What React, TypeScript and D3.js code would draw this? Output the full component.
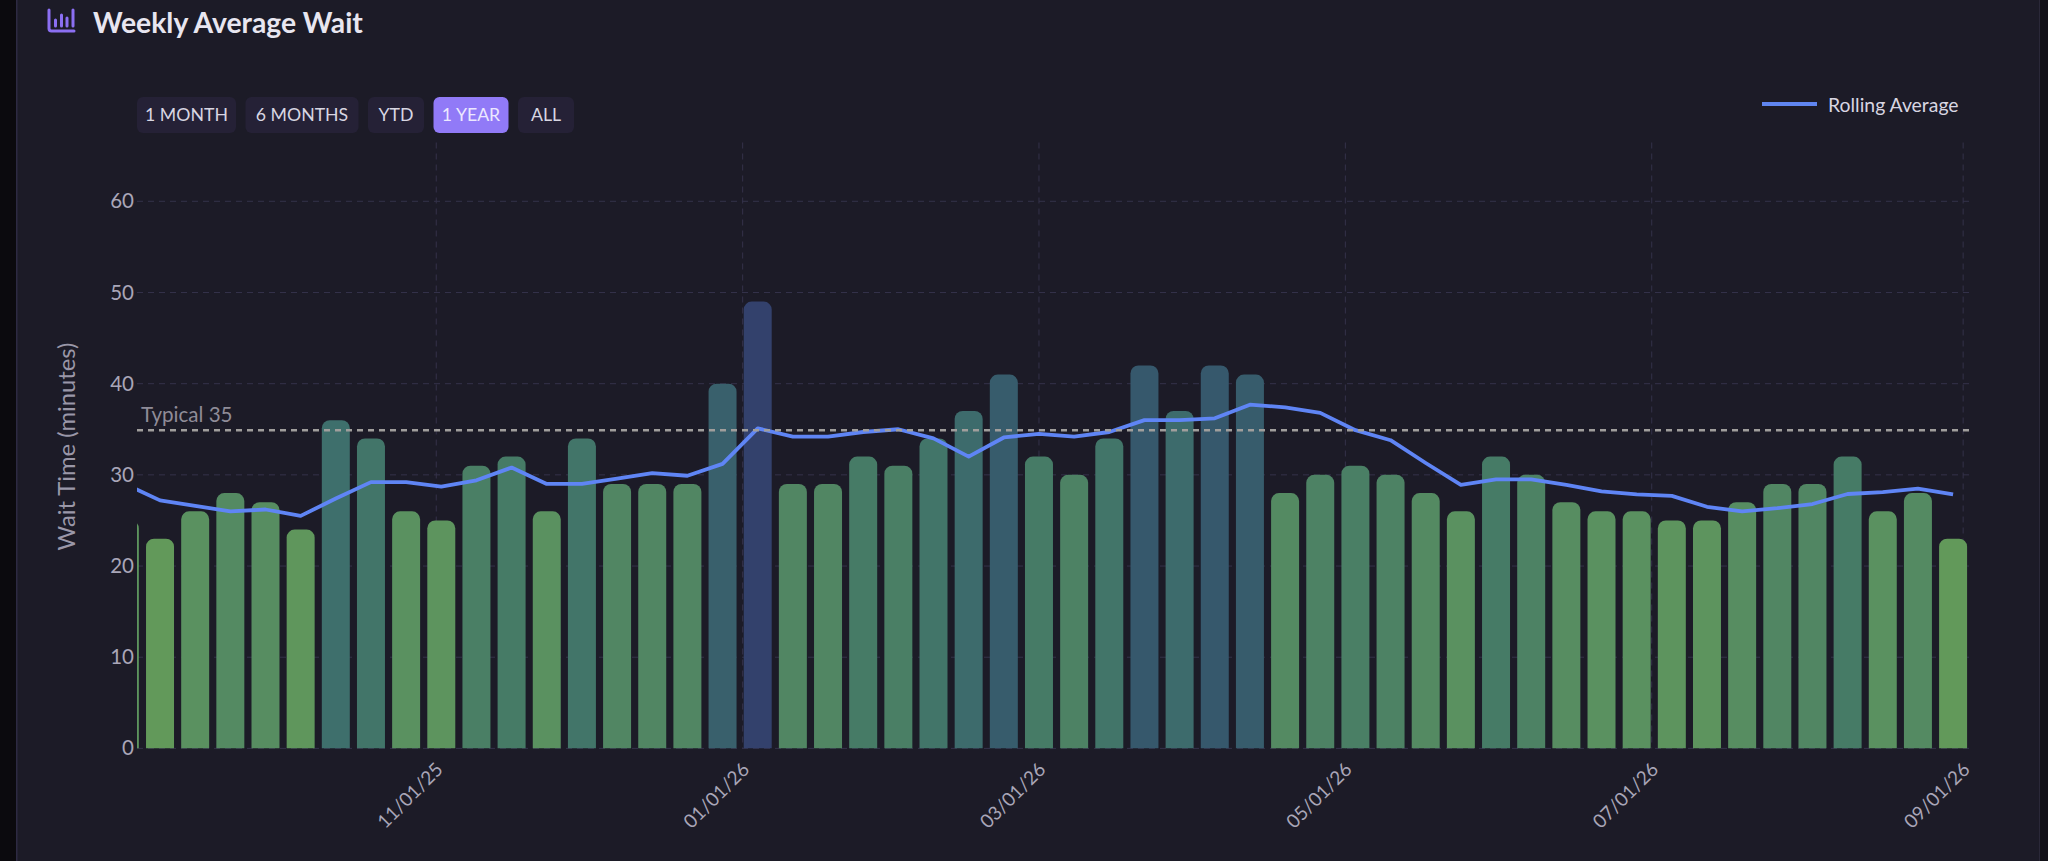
import { useEffect, useRef } from 'react';
import * as d3 from 'd3';

const rangeLabels = ['1 MONTH', '6 MONTHS', 'YTD', '1 YEAR', 'ALL'];
const activeRange = '1 YEAR';
const rangeWidths = [99, 113, 56, 75, 56];

const weekDates = [
  '2025-08-31', '2025-09-07', '2025-09-14', '2025-09-21', '2025-09-28', '2025-10-05', '2025-10-12', '2025-10-19',
  '2025-10-26', '2025-11-02', '2025-11-09', '2025-11-16', '2025-11-23', '2025-11-30', '2025-12-07', '2025-12-14',
  '2025-12-21', '2025-12-28', '2026-01-04', '2026-01-11', '2026-01-18', '2026-01-25', '2026-02-01', '2026-02-08',
  '2026-02-15', '2026-02-22', '2026-03-01', '2026-03-08', '2026-03-15', '2026-03-22', '2026-03-29', '2026-04-05',
  '2026-04-12', '2026-04-19', '2026-04-26', '2026-05-03', '2026-05-10', '2026-05-17', '2026-05-24', '2026-05-31',
  '2026-06-07', '2026-06-14', '2026-06-21', '2026-06-28', '2026-07-05', '2026-07-12', '2026-07-19', '2026-07-26',
  '2026-08-02', '2026-08-09', '2026-08-16', '2026-08-23', '2026-08-30',
];

const weeklyWait = [
  25, 23, 26, 28, 27, 24, 36, 34, 26, 25, 31, 32, 26, 34, 29, 29, 29, 40, 49, 29, 29, 32, 31, 34, 37, 41,
  32, 30, 34, 42, 37, 42, 41, 28, 30, 31, 30, 28, 26, 32, 30, 27, 26, 26, 25, 25, 27, 29, 29, 32, 26, 28, 23,
];

const rollingAverage = [
  29.0, 27.2, 26.6, 26.0, 26.2, 25.5, 27.4, 29.2, 29.2, 28.7, 29.4, 30.8, 29.0, 29.0, 29.6, 30.2, 29.9, 31.2,
  35.1, 34.2, 34.2, 34.7, 35.0, 34.0, 32.0, 34.1, 34.5, 34.2, 34.7, 36.0, 36.0, 36.2, 37.7, 37.4, 36.8, 34.9,
  33.8, 31.3, 28.9, 29.5, 29.5, 28.9, 28.2, 27.85, 27.7, 26.5, 26.0, 26.35, 26.8, 27.9, 28.1, 28.5, 27.85,
];

const yTicks = [0, 10, 20, 30, 40, 50, 60];
const xTicks = ['2025-11-01', '2026-01-01', '2026-03-01', '2026-05-01', '2026-07-01', '2026-09-01'];
const typicalWait = 35;

const colorStops = [23, 26, 29, 32, 36, 42, 49];
const colorValues = ['#62995a', '#5a9160', '#518663', '#467b66', '#3e6f6c', '#36586c', '#33416c'];

const FONT = 'Lato, sans-serif';

export default function App() {
  const svgRef = useRef<SVGSVGElement>(null);

  useEffect(() => {
    if (!svgRef.current) return;

    const svg = d3.select(svgRef.current);
    svg.selectAll('*').remove();

    const plot = { left: 137, right: 1969, top: 142.5, bottom: 748.4 };
    const parse = (s: string) => new Date(`${s}T00:00:00Z`);

    const xScale = d3.scaleUtc()
      .domain([new Date('2025-09-02T10:00:00Z'), new Date('2026-09-02T04:00:00Z')])
      .range([plot.left, plot.right]);
    const yScale = d3.scaleLinear().domain([0, 66.45]).range([plot.bottom, plot.top]);
    const colorScale = d3.scaleLinear<string>().domain(colorStops).range(colorValues);

    // Page panel
    svg.append('rect').attr('width', 2048).attr('height', 861).attr('fill', '#1c1b27');
    svg.append('rect').attr('width', 16).attr('height', 861).attr('fill', '#0b0a0e');
    svg.append('rect').attr('x', 16).attr('width', 1.5).attr('height', 861).attr('fill', '#2d2a42');
    svg.append('rect').attr('x', 2040).attr('width', 8).attr('height', 861).attr('fill', '#121118');
    svg.append('rect').attr('x', 2039).attr('width', 1).attr('height', 861).attr('fill', '#2a2838');

    svg.append('clipPath').attr('id', 'plot-clip')
      .append('rect')
      .attr('x', plot.left).attr('y', plot.top)
      .attr('width', plot.right - plot.left).attr('height', plot.bottom - plot.top);

    // Title and icon
    const icon = svg.append('g').attr('fill', 'none').attr('stroke', '#8b6ff2').attr('stroke-linecap', 'round');
    icon.append('path').attr('d', 'M49 10V28.5Q49 31 51.5 31H74').attr('stroke-width', 3);
    icon.append('path').attr('d', 'M55.5 20V26M61.5 15V26M67 18V26M73 10V26').attr('stroke-width', 3);

    svg.append('text')
      .attr('x', 93).attr('y', 33)
      .attr('fill', '#e8e6f0')
      .attr('font-family', FONT)
      .attr('font-size', '28.3px')
      .attr('font-weight', 700)
      .text('Weekly Average Wait');

    // Range buttons
    let bx = 137;
    rangeLabels.forEach((label, i) => {
      const active = label === activeRange;
      svg.append('rect')
        .attr('x', bx).attr('y', 97)
        .attr('width', rangeWidths[i]).attr('height', 36)
        .attr('rx', 6)
        .attr('fill', active ? '#917af7' : '#252136');
      svg.append('text')
        .attr('x', bx + rangeWidths[i] / 2).attr('y', 121)
        .attr('text-anchor', 'middle')
        .attr('fill', active ? '#ece8ff' : '#d8d6e2')
        .attr('font-family', FONT)
        .attr('font-size', '17.7px')
        .text(label);
      bx += rangeWidths[i] + 9.5;
    });

    // Legend
    svg.append('line')
      .attr('x1', 1762).attr('x2', 1817).attr('y1', 104).attr('y2', 104)
      .attr('stroke', '#5f85f0').attr('stroke-width', 4);
    svg.append('text')
      .attr('x', 1828).attr('y', 112)
      .attr('fill', '#d8d6e2')
      .attr('font-family', FONT)
      .attr('font-size', '19.4px')
      .text('Rolling Average');

    // Grid
    const grid = svg.append('g').attr('stroke', '#34324a').attr('stroke-dasharray', '6,5');
    grid.selectAll('.h')
      .data(yTicks)
      .join('line')
      .attr('x1', plot.left).attr('x2', plot.right)
      .attr('y1', (d) => yScale(d)).attr('y2', (d) => yScale(d));
    grid.selectAll('.v')
      .data(xTicks)
      .join('line')
      .attr('x1', (d) => xScale(parse(d))).attr('x2', (d) => xScale(parse(d)))
      .attr('y1', plot.top).attr('y2', plot.bottom);

    // Axes
    const yAxis = svg.append('g')
      .attr('transform', `translate(${plot.left},0)`)
      .call(d3.axisLeft(yScale).tickValues(yTicks).tickSize(0).tickPadding(3));
    yAxis.select('.domain').remove();
    yAxis.selectAll('text')
      .attr('fill', '#a9a6b8')
      .attr('font-family', FONT)
      .attr('font-size', '20.5px');

    const xAxis = svg.append('g')
      .attr('transform', `translate(0,${plot.bottom})`)
      .call(
        d3.axisBottom(xScale)
          .tickValues(xTicks.map(parse))
          .tickSize(0)
          .tickFormat((d) => d3.utcFormat('%m/%d/%y')(d as Date)),
      );
    xAxis.select('.domain').remove();
    xAxis.selectAll('text')
      .attr('fill', '#a9a6b8')
      .attr('font-family', FONT)
      .attr('font-size', '19px')
      .attr('text-anchor', 'end')
      .attr('x', 0).attr('y', 0).attr('dy', '0.32em')
      .attr('transform', 'translate(3,18) rotate(-45)');

    svg.append('text')
      .attr('transform', `translate(75,${(342 + 551) / 2}) rotate(-90)`)
      .attr('text-anchor', 'middle')
      .attr('fill', '#9a97a8')
      .attr('font-family', FONT)
      .attr('font-size', '23.8px')
      .text('Wait Time (minutes)');

    const clipped = svg.append('g').attr('clip-path', 'url(#plot-clip)');

    // Bars, rounded on top only
    const barWidth = 28;
    const radius = 8;
    const barPath = (date: string, value: number) => {
      const left = xScale(parse(date)) - barWidth / 2;
      const right = left + barWidth;
      const top = yScale(value);
      const p = d3.path();
      p.moveTo(left, plot.bottom);
      p.lineTo(left, top + radius);
      p.arcTo(left, top, left + radius, top, radius);
      p.lineTo(right - radius, top);
      p.arcTo(right, top, right, top + radius, radius);
      p.lineTo(right, plot.bottom);
      p.closePath();
      return p.toString();
    };

    clipped.selectAll('.bar')
      .data(weeklyWait)
      .join('path')
      .attr('class', 'bar')
      .attr('d', (d, i) => barPath(weekDates[i], d))
      .attr('fill', (d) => colorScale(d));

    // Typical reference line
    svg.append('line')
      .attr('x1', plot.left).attr('x2', plot.right)
      .attr('y1', yScale(typicalWait) + 1).attr('y2', yScale(typicalWait) + 1)
      .attr('stroke', '#a09e9c')
      .attr('stroke-width', 2.6)
      .attr('stroke-dasharray', '6,5');
    svg.append('text')
      .attr('x', 141).attr('y', 422)
      .attr('fill', '#8f8c98')
      .attr('font-family', FONT)
      .attr('font-size', '20.6px')
      .text(`Typical ${typicalWait}`);

    // Rolling average
    const line = d3.line<number>()
      .x((_, i) => xScale(parse(weekDates[i])))
      .y((d) => yScale(d));
    clipped.append('path')
      .attr('d', line(rollingAverage))
      .attr('fill', 'none')
      .attr('stroke', '#5f85f5')
      .attr('stroke-width', 3.8)
      .attr('stroke-linejoin', 'round');
  }, []);

  return (
    <svg
      ref={svgRef}
      width={2048}
      height={861}
      style={{ position: 'absolute', left: 0, top: 0, display: 'block' }}
    />
  );
}
